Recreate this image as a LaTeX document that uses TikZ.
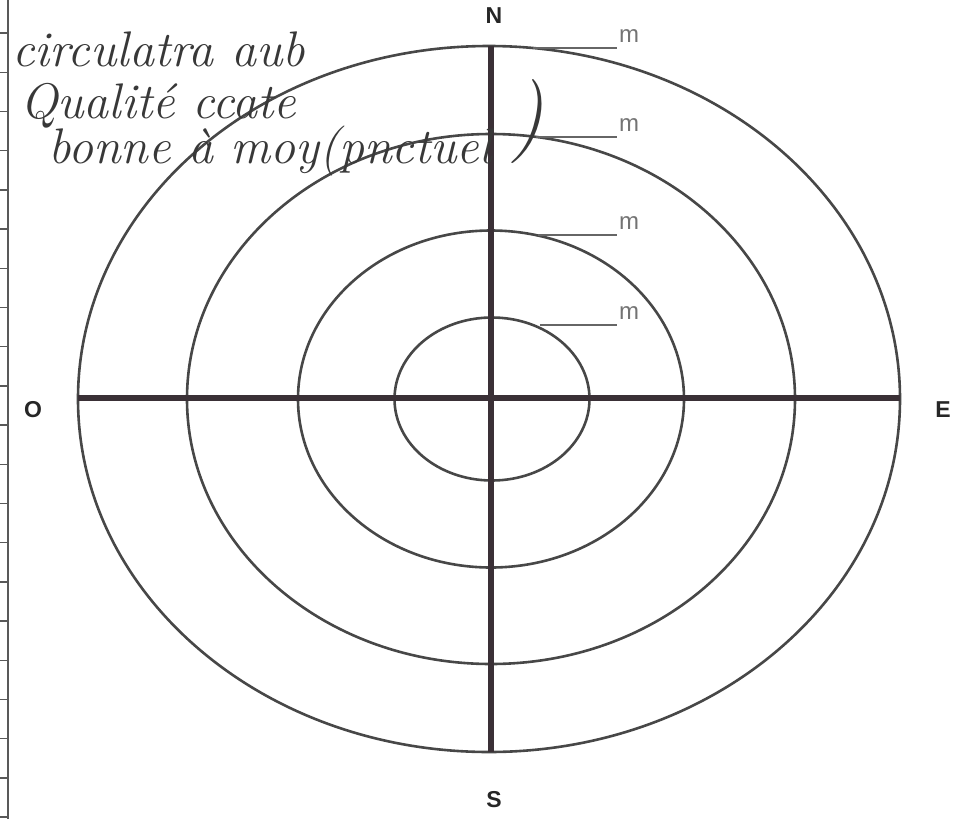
\documentclass[tikz,border=0pt]{standalone}
\usepackage{fontspec}
\newfontfamily\labfont{Liberation Sans}
\begin{document}
\begin{tikzpicture}[x=1pt,y=-1pt,
  ring/.style={draw=black!72,line width=2.6pt},
  axis/.style={draw={rgb,255:red,58;green,48;blue,54},line width=6.5pt},
  leader/.style={draw=black!60,line width=1.3pt},
  cardinal/.style={font=\labfont\bfseries\fontsize{23}{23}\selectfont,text=black!85,inner sep=0pt},
  unit/.style={font=\labfont\fontsize{24}{24}\selectfont,text=black!55,inner sep=0pt},
  hand/.style={font=\itshape\fontsize{50}{50}\selectfont,text=black!78,inner sep=0pt,anchor=base west},
  rule/.style={draw=black!65,line width=1.4pt}]
\useasboundingbox (0,0) rectangle (964,825);
% ruler at left edge
\draw[rule] (8,0) -- (8,819);
\foreach \k in {0,...,20}{
  \draw[rule] (0,{33+39.2*\k}) -- (8,{33+39.2*\k});
}
% ellipses
\draw[ring] (489,399) ellipse [x radius=411pt, y radius=353pt];
\draw[ring] (491,399) ellipse [x radius=304pt, y radius=265pt];
\draw[ring] (491,399) ellipse [x radius=193pt, y radius=168.5pt];
\draw[ring] (492,399) ellipse [x radius=97.5pt, y radius=81.5pt];
% axes
\coordinate (top) at (491,46);
\coordinate (bot) at (491,752);
\coordinate (lft) at (78,398);
\coordinate (rgt) at (900,398);
\draw[axis] (lft) -- (rgt);
\draw[axis] (top) -- (bot);
% cardinal labels
\node[cardinal] (N) at (494,16) {N};
\node[cardinal] (S) at (494,800) {S};
\node[cardinal] (O) at (33,410) {O};
\node[cardinal] (E) at (943,410) {E};
% leaders with m
\foreach \y/\xs/\n in {48/533/a,137/536/b,235/538/c,325/540/d}{
  \coordinate (ls\n) at (\xs,\y);
  \coordinate (le\n) at (617,\y);
  \draw[leader] (ls\n) -- (le\n);
  \node[unit] (m\n) at (629,\y-12) {m};
}
% handwriting
\node[hand] (h1) at (12,66) {circulatra aub};
\node[hand] (h2) at (20,118) {Qualité ccate};
\node[hand] (h3) at (48,163) {bonne à moy(pnctuel};
\node[font=\itshape\fontsize{84}{84}\selectfont,text=black!78,inner sep=0pt] (h4) at (527,122) {)};
\end{tikzpicture}
\end{document}
